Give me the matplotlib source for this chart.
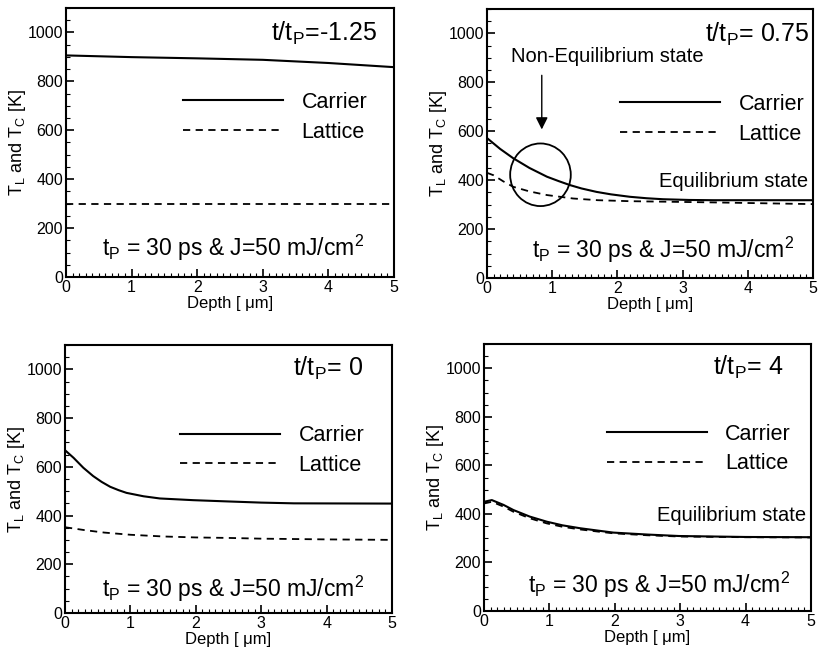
import matplotlib
matplotlib.use("Agg")
import matplotlib.pyplot as plt
from matplotlib.patches import Ellipse
from matplotlib.ticker import MultipleLocator

plt.rcParams['font.family'] = ['Liberation Sans', 'DejaVu Sans']
plt.rcParams['mathtext.fontset'] = 'custom'
plt.rcParams['mathtext.rm'] = 'Liberation Sans'
plt.rcParams['mathtext.it'] = 'Liberation Sans:italic'

# ---- data (depth in um, temperature in K) ----
t_ratio = ['-1.25', '0.75', '0', '4']

d1 = [0, 1, 2, 3, 4, 5]
carrier1 = [906, 899, 894, 888, 875, 858]
lat_d1 = [0, 5]
lattice1 = [300, 300]

d2 = [0, 0.2, 0.4, 0.65, 0.92, 1.1, 1.27, 1.45, 1.68, 1.9, 2.19, 2.45, 2.7, 3.1, 3.47, 5]
carrier2 = [572, 528, 490, 450, 414, 396, 380, 366, 352, 342, 332, 326, 322, 319, 318, 318]
lat_d2 = [0, 0.1, 0.25, 0.4, 0.65, 0.92, 1.32, 1.7, 2.19, 3.47, 5]
lattice2 = [430, 420, 395, 373, 354, 339, 325, 318, 314, 309, 302]

d3 = [0, 0.13, 0.28, 0.43, 0.56, 0.69, 0.82, 0.94, 1.2, 1.45, 1.96, 2.47, 3.0, 3.5, 5]
carrier3 = [668, 637, 596, 562, 538, 518, 504, 493, 479, 470, 463, 458, 453, 450, 449]
lat_d3 = [0, 0.3, 0.6, 1, 1.5, 2, 2.5, 3, 4, 5]
lattice3 = [352, 340, 330, 321, 314, 310, 308, 305, 302, 300]

d4 = [0, 0.12, 0.3, 0.45, 0.7, 0.96, 1.2, 1.47, 1.75, 1.98, 2.5, 2.98, 4, 5]
carrier4 = [450, 457, 437, 416, 389, 368, 353, 341, 331, 323, 315, 309, 305, 304]
lattice4 = [443, 450, 430, 409, 382, 361, 347, 336, 327, 320, 312, 307, 304, 303]

panels = [
    (d1, carrier1, lat_d1, lattice1),
    (d2, carrier2, lat_d2, lattice2),
    (d3, carrier3, lat_d3, lattice3),
    (d4, carrier4, d4, lattice4),
]

# ---- layout ----
axes_rects = [
    [0.0804, 0.5758, 0.3995, 0.412],
    [0.5932, 0.5743, 0.3970, 0.412],
    [0.0792, 0.0613, 0.3983, 0.4104],
    [0.5895, 0.0643, 0.3983, 0.4089],
]
title_pos = [(0.948, 0.907), (0.99, 0.907), (0.91, 0.914), (0.914, 0.914)]
legend_pos = [(0.357, 0.688), (0.408, 0.684), (0.352, 0.70), (0.376, 0.702)]
note_pos = [(0.11, 0.108), (0.138, 0.104), (0.113, 0.088), (0.135, 0.097)]

fig = plt.figure(figsize=(8.21, 6.53), dpi=100)

for i, (dc, tc, dl, tl) in enumerate(panels):
    ax = fig.add_axes(axes_rects[i])
    ax.plot(dc, tc, color='black', lw=1.5, label='Carrier')
    ax.plot(dl, tl, color='black', lw=1.3, ls=(0, (4, 3)), label='Lattice')
    ax.set_xlim(0, 5)
    ax.set_ylim(0, 1100)
    ax.xaxis.set_major_locator(MultipleLocator(1))
    ax.xaxis.set_minor_locator(MultipleLocator(0.1))
    ax.yaxis.set_major_locator(MultipleLocator(200))
    ax.yaxis.set_minor_locator(MultipleLocator(50))
    ax.tick_params(which='both', direction='in', top=False, right=False,
                   labelsize=11.5, pad=2)
    ax.tick_params(which='major', length=6, width=1.2)
    ax.tick_params(which='minor', length=3, width=0.8)
    for s in ax.spines.values():
        s.set_linewidth(1.5)
    ax.set_xlabel('Depth [ μm]', fontsize=12, labelpad=1)
    ax.set_ylabel(r'T$_\mathregular{L}$ and T$_\mathregular{C}$ [K]',
                  fontsize=13, labelpad=0)
    ax.text(*title_pos[i], r't/t$_\mathregular{P}$=' + (' ' if i else '') + t_ratio[i],
            transform=ax.transAxes, ha='right', va='center', fontsize=18,
            clip_on=False)
    ax.legend(loc='upper left', bbox_to_anchor=legend_pos[i], frameon=False,
              fontsize=15.5, handlelength=4.65, handletextpad=0.85,
              labelspacing=0.4, borderpad=0, borderaxespad=0)
    ax.text(*note_pos[i], r't$_\mathregular{P}$ = 30 ps & J=50 mJ/cm$^\mathregular{2}$',
            transform=ax.transAxes, ha='left', va='center', fontsize=16.5)

    if i == 1:
        ax.add_patch(Ellipse((0.82, 422), 0.93, 256, fill=False,
                             edgecolor='black', lw=1.3))
        ax.annotate('', xy=(0.84, 596), xytext=(0.84, 840),
                    arrowprops=dict(arrowstyle='-|>', color='black', lw=1,
                                    mutation_scale=18))
        ax.text(1.84, 905, 'Non-Equilibrium state', ha='center', va='center',
                fontsize=14.5)
    if i in (1, 3):
        ax.text(4.92, 395, 'Equilibrium state', ha='right', va='center',
                fontsize=14.5)

fig.savefig('out.png', dpi=100)
